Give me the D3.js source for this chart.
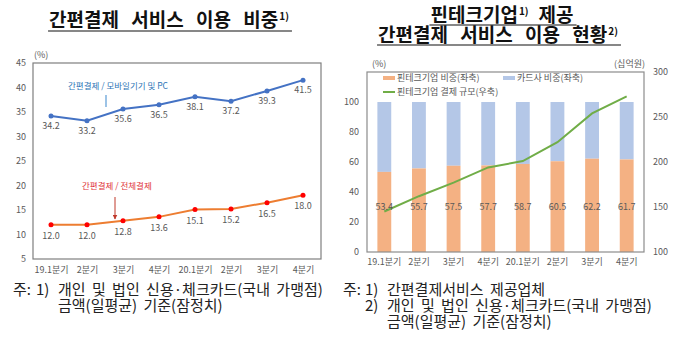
<!DOCTYPE html>
<html>
<head>
<meta charset="utf-8">
<script src="https://cdn.jsdelivr.net/npm/d3@7"></script>
<style>
  body { margin: 0; background: #fff; }
  svg text { font-family: "Noto Sans CJK KR", "Noto Sans", sans-serif; }
  .tick text { fill: #595959; font-size: 9px; }
  .lbl { fill: #595959; font-size: 9px; }
  .note { fill: #222; font-size: 15px; word-spacing: 3px; }
  .title { fill: #111; font-size: 19px; font-weight: bold; word-spacing: 8px; }
  .sup { fill: #111; font-size: 10px; font-weight: bold; }
</style>
</head>
<body>
<div id="chart"></div>
<script>
const width = 680;
const height = 351;

// datos
const quarters = ['19.1분기', '2분기', '3분기', '4분기', '20.1분기', '2분기', '3분기', '4분기'];
const mobileShare = [34.2, 33.2, 35.6, 36.5, 38.1, 37.2, 39.3, 41.5];
const totalShare = [12.0, 12.0, 12.8, 13.6, 15.1, 15.2, 16.5, 18.0];
const fintechShare = [53.4, 55.7, 57.5, 57.7, 58.7, 60.5, 62.2, 61.7];
const fintechAmount = [145, 162, 177, 194, 201, 222, 254, 273];
const leftTicks = [5, 10, 15, 20, 25, 30, 35, 40, 45];
const rightTicksL = [0, 20, 40, 60, 80, 100];
const rightTicksR = [100, 150, 200, 250, 300];

const svg = d3.select('#chart')
  .append('svg')
  .attr('width', width)
  .attr('height', height);

svg.append('defs').append('marker')
  .attr('id', 'arrowRed')
  .attr('viewBox', '0 0 10 10')
  .attr('refX', 9).attr('refY', 5)
  .attr('markerWidth', 5).attr('markerHeight', 5)
  .attr('orient', 'auto')
  .append('path')
  .attr('d', 'M0,0 L10,5 L0,10 z')
  .attr('fill', '#c0392b');

// titulo con subrayado: cada trozo es un text aparte
function drawTitle(parts, cx, y, uy) {
  const g = svg.append('g');
  const items = parts.map(p => {
    const t = g.append('text')
      .attr('class', p.sup ? 'sup' : 'title')
      .attr('y', p.sup ? y - 7 : y)
      .text(p.text);
    return { t, w: t.node().getComputedTextLength() + (p.gap || 0) };
  });
  const total = d3.sum(items, d => d.w);
  let x = cx - total / 2;
  items.forEach(d => {
    d.t.attr('x', x);
    x += d.w;
  });
  g.append('line')
    .attr('x1', cx - total / 2 - 1).attr('x2', cx + total / 2 + 3)
    .attr('y1', y + uy).attr('y2', y + uy)
    .attr('stroke', '#111').attr('stroke-width', 1.2);
}

drawTitle([{ text: '간편결제 서비스 이용 비중', gap: 1 }, { text: '1)', sup: true }], 169, 27, 4);
drawTitle([{ text: '핀테크기업', gap: 1 }, { text: '1)', sup: true, gap: 10 }, { text: '제공' }], 502, 22, 3);
drawTitle([{ text: '간편결제 서비스 이용 현황', gap: 1 }, { text: '2)', sup: true }], 498, 42, 3);

// ---------- grafico izquierdo ----------
const L = { x0: 33, x1: 321, y0: 259, y1: 63 };

const xL = d3.scalePoint()
  .domain(d3.range(quarters.length))
  .range([L.x0, L.x1])
  .padding(0.5);

const yL = d3.scaleLinear()
  .domain([5, 45])
  .range([L.y0, L.y1]);

const gL = svg.append('g');

gL.append('rect')
  .attr('x', L.x0).attr('y', L.y1)
  .attr('width', L.x1 - L.x0).attr('height', L.y0 - L.y1)
  .attr('fill', 'none').attr('stroke', '#7f7f7f').attr('stroke-width', 1.2);

const axL = gL.append('g')
  .attr('transform', `translate(${L.x0},0)`)
  .call(d3.axisLeft(yL).tickValues(leftTicks).tickSize(0).tickPadding(7));
axL.select('.domain').remove();

const axLx = gL.append('g')
  .attr('transform', `translate(0,${L.y0})`)
  .call(d3.axisBottom(xL).tickSize(0).tickPadding(8).tickFormat(i => quarters[i]));
axLx.select('.domain').remove();

gL.append('text').attr('class', 'lbl')
  .attr('x', 34).attr('y', 58).attr('font-size', '7px').text('(%)');

const lineL = d3.line()
  .x((d, i) => xL(i))
  .y(d => yL(d));

gL.append('path')
  .datum(mobileShare)
  .attr('d', lineL)
  .attr('fill', 'none').attr('stroke', '#4472c4').attr('stroke-width', 2);

gL.selectAll('.pm')
  .data(mobileShare).enter()
  .append('circle')
  .attr('cx', (d, i) => xL(i)).attr('cy', d => yL(d))
  .attr('r', 2.5).attr('fill', '#4472c4');

gL.selectAll('.lm')
  .data(mobileShare).enter()
  .append('text').attr('class', 'lbl')
  .attr('x', (d, i) => xL(i)).attr('y', d => yL(d) + 13)
  .attr('text-anchor', 'middle')
  .text(d => d.toFixed(1));

gL.append('path')
  .datum(totalShare)
  .attr('d', lineL)
  .attr('fill', 'none').attr('stroke', '#ed7d31').attr('stroke-width', 2);

gL.selectAll('.pt')
  .data(totalShare).enter()
  .append('circle')
  .attr('cx', (d, i) => xL(i)).attr('cy', d => yL(d))
  .attr('r', 2.5).attr('fill', '#ff0000');

gL.selectAll('.lt')
  .data(totalShare).enter()
  .append('text').attr('class', 'lbl')
  .attr('x', (d, i) => xL(i)).attr('y', d => yL(d) + 14)
  .attr('text-anchor', 'middle')
  .text(d => d.toFixed(1));

// anotaciones
gL.append('text')
  .attr('x', 68).attr('y', 89)
  .attr('font-size', '8.5px').attr('fill', '#2e75b6')
  .text('간편결제 / 모바일기기 및 PC');
gL.append('line')
  .attr('x1', 106).attr('x2', 106).attr('y1', 95).attr('y2', yL(mobileShare[2]) - 2)
  .attr('stroke', '#5b9bd5').attr('stroke-width', 1.2);

gL.append('text')
  .attr('x', 82).attr('y', 189)
  .attr('font-size', '8.5px').attr('fill', '#e0343a')
  .text('간편결제 / 전체결제');
gL.append('line')
  .attr('x1', 115).attr('x2', 115).attr('y1', 197).attr('y2', 219)
  .attr('stroke', '#c0392b').attr('stroke-width', 1)
  .attr('marker-end', 'url(#arrowRed)');

// ---------- grafico derecho ----------
const R = { x0: 367, x1: 644, y0: 252, y1: 72 };

const xR = d3.scaleBand()
  .domain(d3.range(quarters.length))
  .range([R.x0, R.x1])
  .paddingInner(0.6)
  .paddingOuter(0.3);

const yRL = d3.scaleLinear().domain([0, 120]).range([R.y0, R.y1]);
const yRR = d3.scaleLinear().domain([100, 300]).range([R.y0, R.y1]);

const gR = svg.append('g');

gR.selectAll('.barB')
  .data(fintechShare).enter()
  .append('rect')
  .attr('x', (d, i) => xR(i)).attr('width', xR.bandwidth())
  .attr('y', yRL(100)).attr('height', d => yRL(d) - yRL(100))
  .attr('fill', '#b4c7e7');

gR.selectAll('.barO')
  .data(fintechShare).enter()
  .append('rect')
  .attr('x', (d, i) => xR(i)).attr('width', xR.bandwidth())
  .attr('y', d => yRL(d)).attr('height', d => yRL(0) - yRL(d))
  .attr('fill', '#f4b183');

gR.append('rect')
  .attr('x', R.x0).attr('y', R.y1)
  .attr('width', R.x1 - R.x0).attr('height', R.y0 - R.y1)
  .attr('fill', 'none').attr('stroke', '#8c8c8c').attr('stroke-width', 1.2);

const lineR = d3.line()
  .x((d, i) => xR(i) + xR.bandwidth() / 2)
  .y(d => yRR(d));

gR.append('path')
  .datum(fintechAmount)
  .attr('d', lineR)
  .attr('fill', 'none').attr('stroke', '#70ad47').attr('stroke-width', 2);

gR.selectAll('.lb')
  .data(fintechShare).enter()
  .append('text').attr('class', 'lbl')
  .attr('x', (d, i) => xR(i) + xR.bandwidth() / 2).attr('y', yRL(28))
  .attr('text-anchor', 'middle')
  .text(d => d.toFixed(1));

const axRL = gR.append('g')
  .attr('transform', `translate(${R.x0},0)`)
  .call(d3.axisLeft(yRL).tickValues(rightTicksL).tickSize(0).tickPadding(8));
axRL.select('.domain').remove();

const axRR = gR.append('g')
  .attr('transform', `translate(${R.x1},0)`)
  .call(d3.axisRight(yRR).tickValues(rightTicksR).tickSize(0).tickPadding(9));
axRR.select('.domain').remove();

const axRx = gR.append('g')
  .attr('transform', `translate(0,${R.y0})`)
  .call(d3.axisBottom(xR).tickSize(0).tickPadding(7).tickFormat(i => quarters[i]));
axRx.select('.domain').remove();

gR.append('text').attr('class', 'lbl')
  .attr('x', 372).attr('y', 67).attr('font-size', '7.5px').text('(%)');
gR.append('text').attr('class', 'lbl')
  .attr('x', 645).attr('y', 67).attr('font-size', '7.5px')
  .attr('text-anchor', 'end').text('(십억원)');

// leyenda
const legend = [
  { name: '핀테크기업 비중(좌축)', color: '#f4b183', x: 383, y: 81, w: 4 },
  { name: '카드사 비중(좌축)', color: '#b4c7e7', x: 503, y: 81, w: 4 },
  { name: '핀테크기업 결제 규모(우축)', color: '#70ad47', x: 383, y: 95, w: 2 }
];
legend.forEach(l => {
  gR.append('line')
    .attr('x1', l.x).attr('x2', l.x + 12).attr('y1', l.y - 3).attr('y2', l.y - 3)
    .attr('stroke', l.color).attr('stroke-width', l.w);
  gR.append('text').attr('class', 'lbl')
    .attr('x', l.x + 14).attr('y', l.y).attr('font-size', '8.5px')
    .text(l.name);
});

// notas
const notes = [
  { x: 13, y: 295, t: '주:' }, { x: 36, y: 295, t: '1)' },
  { x: 58, y: 295, t: '개인 및 법인 신용·체크카드(국내 가맹점)' },
  { x: 58, y: 311, t: '금액(일평균) 기준(잠정치)' },
  { x: 343, y: 295, t: '주:' }, { x: 365, y: 295, t: '1)' },
  { x: 387, y: 295, t: '간편결제서비스 제공업체' },
  { x: 365, y: 311, t: '2)' },
  { x: 387, y: 311, t: '개인 및 법인 신용·체크카드(국내 가맹점)' },
  { x: 387, y: 327, t: '금액(일평균) 기준(잠정치)' }
];
svg.selectAll('.note')
  .data(notes).enter()
  .append('text').attr('class', 'note')
  .attr('x', d => d.x).attr('y', d => d.y)
  .text(d => d.t);
</script>
</body>
</html>
